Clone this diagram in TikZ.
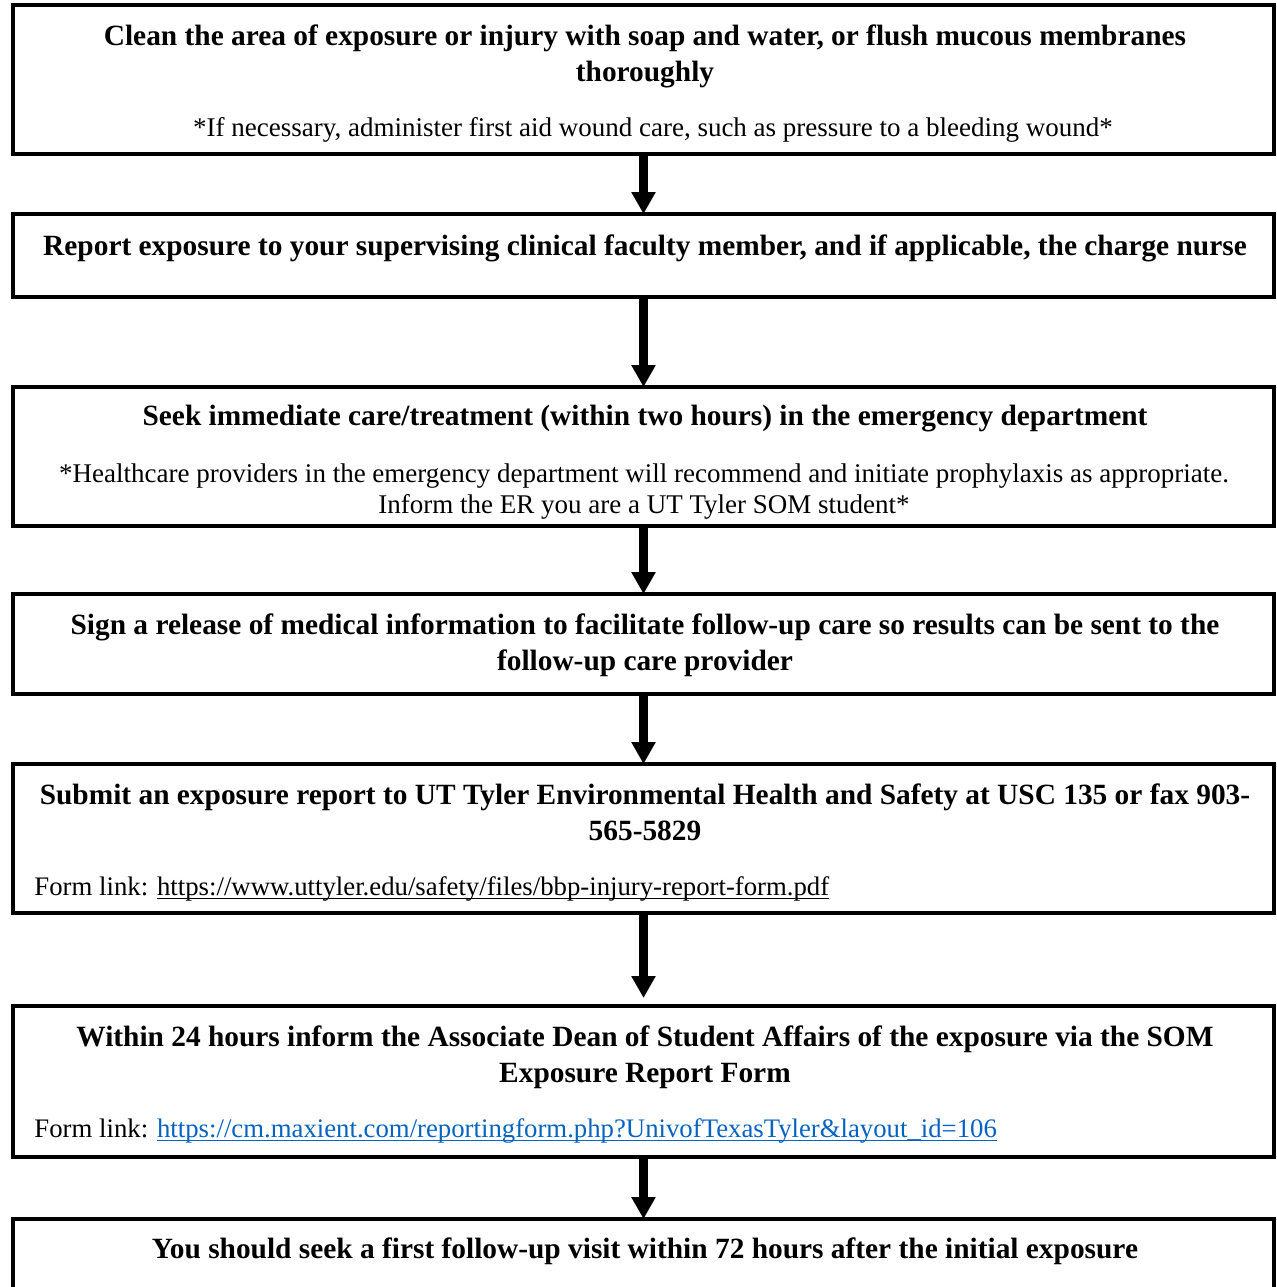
\documentclass[tikz,border=0pt]{standalone}
\usepackage{fontspec}
\setmainfont{Liberation Serif}
\usetikzlibrary{arrows.meta}
\definecolor{linkblue}{HTML}{0563C1}
\newcommand\linkul[1]{\setbox0\hbox{#1}\rlap{\rule[-1.4pt]{\wd0}{0.4pt}}\box0}

\begin{document}
\begin{tikzpicture}[x=0.4pt,y=-0.4pt,
    box/.style={draw, line width=1.6pt, minimum width=504.4pt, inner sep=0pt, outer sep=0pt},
    head/.style={font=\fontsize{11.75}{14.4}\selectfont\bfseries, align=center, anchor=base, inner sep=0pt},
    note/.style={font=\fontsize{10.8}{12.4}\selectfont, align=center, anchor=base, inner sep=0pt},
    link/.style={font=\fontsize{10.7}{12.4}\selectfont, anchor=base west, inner sep=0pt},
    flow/.style={line width=3.6pt, -{Triangle[width=9.2pt,length=8.8pt]}}]
    \path[use as bounding box, clip] (0,0) rectangle (1276,1287);
    % the seven steps
    \node[box, minimum height=59.6pt] (S1) at (643.5,79.5) {};
    \node[box, minimum height=33.2pt] (S2) at (643.5,255.5) {};
    \node[box, minimum height=55.6pt] (S3) at (643.5,456.5) {};
    \node[box, minimum height=40pt] (S4) at (643.5,644) {};
    \node[box, minimum height=59.6pt] (S5) at (643.5,838.5) {};
    \node[box, minimum height=60.4pt] (S6) at (643.5,1081.5) {};
    \node[box, minimum height=44.4pt] (S7) at (643.5,1274.5) {};
    % texts (multi-line ones sit on their last baseline)
    \node[head] (T1) at (645,81) {Clean the area of exposure or injury with soap and water, or flush mucous membranes\\thoroughly};
    \node[note] (N1) at (653,136) {*If necessary, administer first aid wound care, such as pressure to a bleeding wound*};
    \node[head] (T2) at (645,255) {Report exposure to your supervising clinical faculty member, and if applicable, the charge nurse};
    \node[head] (T3) at (645,425) {Seek immediate care/treatment (within two hours) in the emergency department};
    \node[note] (N3) at (644,513) {*Healthcare providers in the emergency department will recommend and initiate prophylaxis as appropriate.\\Inform the ER you are a UT Tyler SOM student*};
    \node[head] (T4) at (645,670) {Sign a release of medical information to facilitate follow-up care so results can be sent to the\\follow-up care provider};
    \node[head] (T5) at (645,840) {Submit an exposure report to UT Tyler Environmental Health and Safety at USC 135 or fax 903-\\565-5829};
    \node[link] (L5) at (34,895) {Form link: \linkul{https://www.uttyler.edu/safety/files/bbp-injury-report-form.pdf}};
    \node[head] (T6) at (645,1082) {Within 24 hours inform the Associate Dean of Student Affairs of the exposure via the SOM\\Exposure Report Form};
    \node[link] (L6) at (34,1137) {Form link: \textcolor{linkblue}{\linkul{https://cm.maxient.com/reportingform.php?UnivofTexasTyler\&layout\_id=106}}};
    \node[head] (T7) at (645,1258) {You should seek a first follow-up visit within 72 hours after the initial exposure};
    % arrows
    \draw[flow] (S1) -- (S2);
    \draw[flow] (S2) -- (S3);
    \draw[flow] (S3) -- (S4);
    \draw[flow] (S4) -- (S5);
    \draw[flow, shorten >=3.2pt] (S5) -- (S6);
    \draw[flow] (S6) -- (S7);
\end{tikzpicture}
\end{document}
